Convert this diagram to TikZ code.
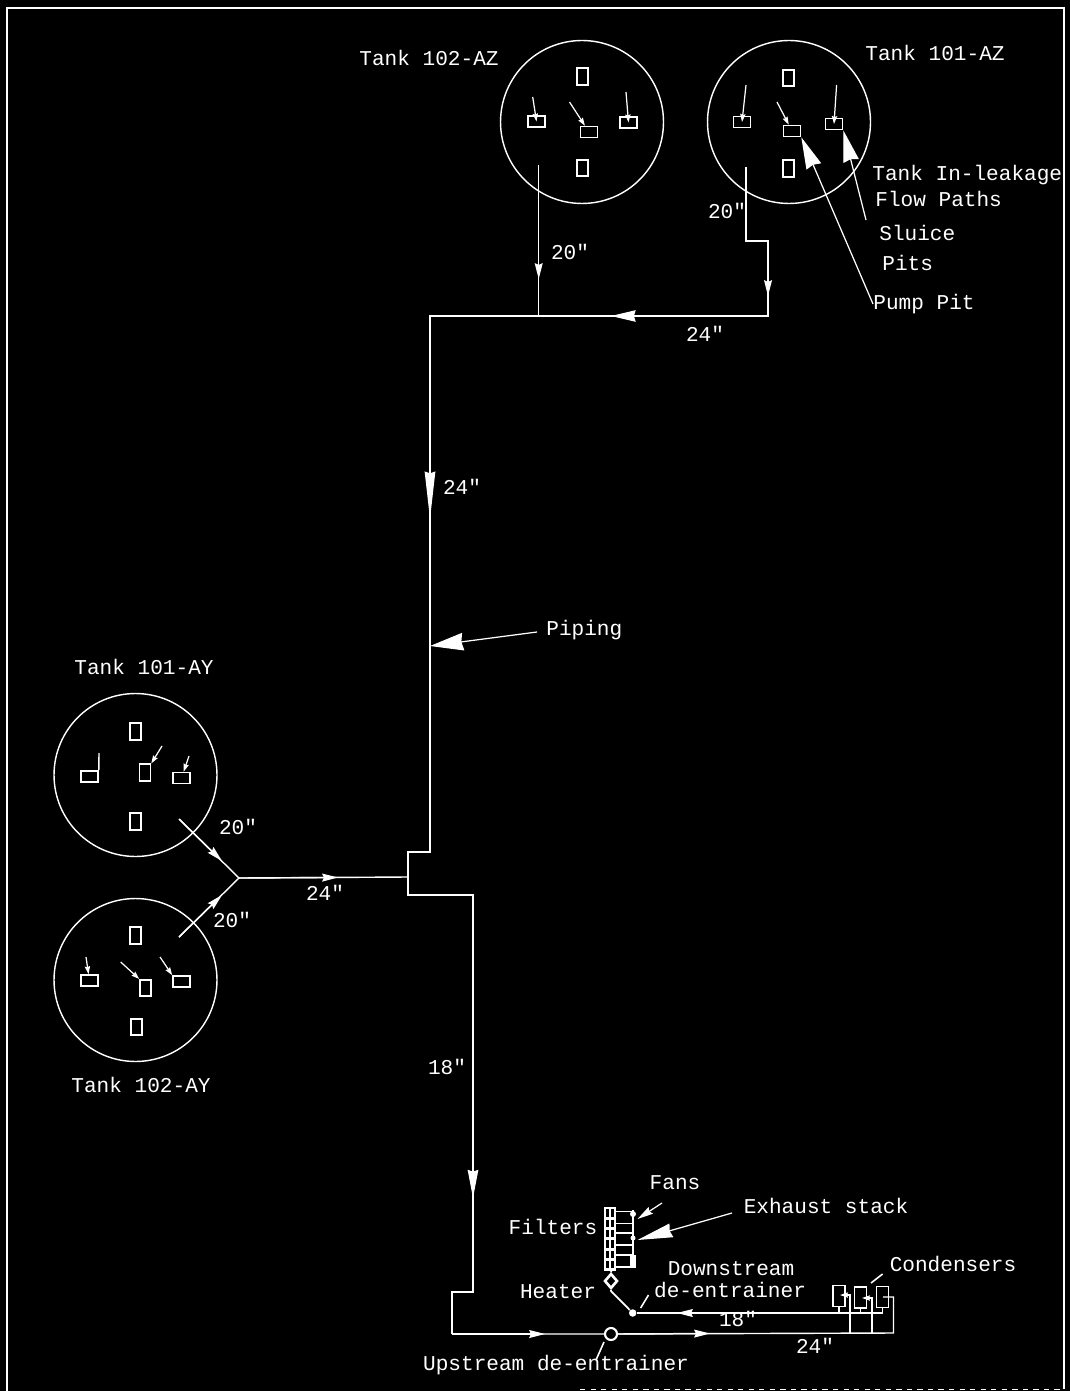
\documentclass[tikz,border=0pt]{standalone}
\usepackage{fontspec}
\setmonofont{Liberation Mono}
\usetikzlibrary{shapes.geometric, arrows.meta}
\tikzset{
  tanklabel/.style={
    font=\ttfamily\fontsize{12}{14}\selectfont, text=white, inner sep=0pt
  },
  tankcircle/.style={
    circle, draw=white, line width=0.8pt, minimum size=3.26cm, inner sep=0pt
  },
  pitbox/.style={
    rectangle, draw=white, line width=0.9pt, inner sep=0pt,
    minimum width=0.34cm, minimum height=0.22cm
  },
  pitboxtall/.style={
    rectangle, draw=white, line width=0.9pt, inner sep=0pt,
    minimum width=0.22cm, minimum height=0.33cm
  },
  condenser/.style={
    rectangle, draw=white, line width=0.9pt, inner sep=0pt,
    minimum width=0.24cm, minimum height=0.42cm
  },
  filtercell/.style={
    rectangle, draw=white, line width=1.5pt, inner sep=0pt,
    minimum width=0.1cm, minimum height=0.2cm
  },
  fanbox/.style={
    rectangle, draw=white, line width=0.6pt, inner sep=0pt,
    minimum width=0.36cm, minimum height=0.24cm
  },
  pipe/.style={draw=white, line width=0.8pt},
  pipearrow/.style={
    draw=white, line width=0.8pt, -{Stealth[length=16pt,width=6pt,inset=1pt]}
  },
  flowarrow/.style={
    draw=white, line width=0.8pt, -{Stealth[length=9pt,width=4.5pt,inset=1pt]}
  },
  pitarrow/.style={
    draw=white, line width=0.7pt, -{Stealth[length=4.5pt,width=3pt,inset=0.5pt]}
  },
  leader/.style={
    draw=white, line width=0.7pt, -{Stealth[length=18pt,width=9pt,inset=1pt]}
  },
  smallleader/.style={draw=white, line width=0.9pt},
}
\begin{document}
\begin{tikzpicture}[x=0.02cm, y=-0.02cm]
  \useasboundingbox[fill=black] (0,0) rectangle (1070,1391);
  % Frame
  \draw[white, line width=1.3pt] (7,1391) -- (7,8) -- (1064,8) -- (1064,1389);
  \draw[white, line width=0.5pt, dashed] (580,1389) -- (1064,1389);

  % Tanks on the AZ side
  \node[tankcircle] (tankaztwo) at (582,122) {};
  \node[tankcircle] (tankazone) at (789,122) {};
  \node[tanklabel] (labelaztwo) at (429,58) {Tank 102-AZ};
  \node[tanklabel] (labelazone) at (935,53) {Tank 101-AZ};
  % Pits of 102-AZ
  \node[pitboxtall] (aztwotop) at (582.5,76.5) {};
  \node[pitboxtall] (aztwobot) at (582.5,168) {};
  \node[pitbox] (aztwoleft) at (536.5,121.5) {};
  \node[pitbox] (aztwomid) at (589,132) {};
  \node[pitbox] (aztworight) at (628.5,122.5) {};
  \coordinate (aztwoa) at (532.7,97);
  \coordinate (aztwob) at (569.5,102);
  \coordinate (aztwoc) at (626,92);
  \draw[pitarrow] (aztwoa) -- (aztwoleft.center);
  \draw[pitarrow] (aztwob) -- (aztwomid);
  \draw[pitarrow] (aztwoc) -- (aztworight.center);
  % Pits of 101-AZ
  \node[pitboxtall] (azonetop) at (788.5,78) {};
  \node[pitboxtall] (azonebot) at (788.5,168.5) {};
  \node[pitbox] (azoneleft) at (742,122) {};
  \node[pitbox] (azonemid) at (792,131) {};
  \node[pitbox] (azoneright) at (834,124) {};
  \coordinate (azonea) at (746,85);
  \coordinate (azoneb) at (777,102);
  \coordinate (azonec) at (836.6,85);
  \draw[pitarrow] (azonea) -- (azoneleft.center);
  \draw[pitarrow] (azoneb) -- (azonemid);
  \draw[pitarrow] (azonec) -- (azoneright.center);

  % Labels to the right of 101-AZ
  \node[tanklabel, anchor=west] (inleak) at (872,175) {Tank In-leakage};
  \node[tanklabel, anchor=west] (flowpaths) at (875,199) {Flow Paths};
  \node[tanklabel, anchor=west] (sluice) at (879,233) {Sluice};
  \node[tanklabel, anchor=west] (pits) at (882,263) {Pits};
  \node[tanklabel, anchor=west] (pumppit) at (873,304) {Pump Pit};
  \coordinate (sluiceend) at (866,220);
  \draw[leader] (sluiceend) -- (azoneright.south east);
  \draw[leader] (pumppit.west) -- (azonemid.south east);

  % AZ piping
  \coordinate (azastart) at (538.7,165);
  \coordinate (azamark) at (538.7,279);
  \coordinate (azajoin) at (538.7,316);
  \coordinate (azbstart) at (746,167);
  \coordinate (azbstepa) at (746,241);
  \coordinate (azbstepb) at (768,241);
  \coordinate (azbmark) at (768,296);
  \coordinate (azbcorner) at (768,316);
  \coordinate (headmark) at (611,316);
  \coordinate (maintop) at (430,316);
  \coordinate (mainmark) at (430,519);
  \coordinate (mainpiping) at (430,646);
  \coordinate (mainbot) at (430,852);
  \coordinate (stepa) at (408,852);
  \coordinate (stepb) at (408,895);
  \coordinate (stepc) at (473,895);
  \coordinate (ductmark) at (473,1198);
  \coordinate (stepd) at (473,1292);
  \coordinate (stepe) at (452,1292);
  \coordinate (stepf) at (452,1334);
  % Pipes run whole, the flow arrows go on top
  \draw[pipe] (azastart) -- (azajoin);
  \draw[pipe] (azbstart) -- (azbstepa) -- (azbstepb) -- (azbcorner) -- (maintop)
    -- (mainbot) -- (stepa) -- (stepb) -- (stepc) -- (stepd) -- (stepe) -- (stepf);
  \draw[flowarrow] (azastart) -- (azamark);
  \draw[flowarrow] (azbstepb) -- (azbmark);
  \draw[pipearrow, -{Stealth[length=14pt,width=6.5pt,inset=1pt]}] (azbcorner) -- (headmark);
  \draw[pipearrow, -{Stealth[length=27pt,width=6pt,inset=1pt]}] (maintop) -- (mainmark);
  \draw[pipearrow] (stepc) -- (ductmark);
  \node[tanklabel] (sizeaztwo) at (570,252) {20"};
  \node[tanklabel] (sizeazone) at (727,211) {20"};
  \node[tanklabel] (sizehead) at (705,334) {24"};
  \node[tanklabel] (sizemain) at (462,487) {24"};
  \node[tanklabel, anchor=west] (piping) at (546,630) {Piping};
  \coordinate (pipingend) at (537,632);
  \draw[leader, -{Stealth[length=19pt,width=10pt,inset=1pt]}] (pipingend) -- (mainpiping);

  % Tanks on the AY side
  \node[tankcircle] (tankayone) at (135.5,775) {};
  \node[tankcircle] (tankaytwo) at (135.5,980) {};
  \node[tanklabel] (labelayone) at (144,667) {Tank 101-AY};
  \node[tanklabel] (labelaytwo) at (141,1085) {Tank 102-AY};
  % Pits of 101-AY
  \node[pitboxtall] (ayonetop) at (135.5,731.5) {};
  \node[pitboxtall] (ayonebot) at (135.5,821.5) {};
  \node[pitbox] (ayoneleft) at (89.5,776.5) {};
  \node[pitboxtall] (ayonemid) at (145,772.5) {};
  \node[pitbox] (ayoneright) at (181.5,778) {};
  \coordinate (ayonea) at (99,753);
  \coordinate (ayoneb) at (162,746);
  \coordinate (ayonec) at (189,756);
  \draw[pipe] (ayonea) -- (ayoneleft.north east);
  \draw[pitarrow] (ayoneb) -- (ayonemid.north east);
  \draw[pitarrow] (ayonec) -- (ayoneright);
  % Pits of 102-AY
  \node[pitboxtall] (aytwotop) at (135.5,935.5) {};
  \node[pitboxtall] (aytwobot) at (136.5,1027) {};
  \node[pitbox] (aytwoleft) at (89.5,980.5) {};
  \node[pitboxtall] (aytwomid) at (145.5,988) {};
  \node[pitbox] (aytworight) at (181.5,981.5) {};
  \coordinate (aytwoa) at (86,957);
  \coordinate (aytwob) at (120.7,962);
  \coordinate (aytwoc) at (160,957);
  \draw[pitarrow] (aytwoa) -- (aytwoleft);
  \draw[pitarrow] (aytwob) -- (aytwomid.north west);
  \draw[pitarrow] (aytwoc) -- (aytworight.north west);

  % AY piping
  \coordinate (ayastart) at (179,819);
  \coordinate (ayamark) at (222,861);
  \coordinate (aybstart) at (179,937);
  \coordinate (aybmark) at (222,895);
  \coordinate (ayjoin) at (239,878);
  \coordinate (aymark) at (338,877.5);
  \coordinate (ayend) at (408,877);
  \draw[pipe] (ayastart) -- (ayjoin) -- (aybstart);
  \draw[pipe] (ayjoin) -- (ayend);
  \draw[flowarrow] (ayastart) -- (ayamark);
  \draw[flowarrow] (aybstart) -- (aybmark);
  \draw[flowarrow] (ayjoin) -- (aymark);
  \node[tanklabel] (sizeayone) at (238,827) {20"};
  \node[tanklabel] (sizeaytwo) at (232,920) {20"};
  \node[tanklabel] (sizeay) at (325,893) {24"};
  \node[tanklabel] (sizeduct) at (447,1067) {18"};

  % Filters, two columns of cells
  \foreach \row in {0,...,5} {
    \node[filtercell] (filterl\row) at (607.5,1213+10.3*\row) {};
    \node[filtercell] (filterr\row) at (612.5,1213+10.3*\row) {};
  }
  % Fans
  \foreach \row/\ypos in {0/1217.5, 1/1239, 2/1261} {
    \node[fanbox] (fanbox\row) at (624,\ypos) {};
  }
  % Exhaust stack
  \coordinate (stacktop) at (633,1210);
  \coordinate (stackmid) at (633,1255);
  \coordinate (stackbot) at (633,1268);
  \draw[pipe, line width=1.2pt] (stacktop) -- (stackmid);
  \draw[pipe, line width=3pt] (stackmid) -- (stackbot);
  \node[circle, fill=white, inner sep=0pt, minimum size=0.12cm] (stackfan) at (633,1214) {};
  \node[circle, fill=white, inner sep=0pt, minimum size=0.1cm] (stackjet) at (633,1238) {};
  \node[diamond, draw=white, line width=1.5pt, inner sep=0pt,
    minimum width=0.26cm, minimum height=0.3cm] (heater) at (611,1281) {};
  \node[tanklabel] (filters) at (553,1227) {Filters};
  \node[tanklabel] (fans) at (675,1183) {Fans};
  \node[tanklabel] (exhaust) at (826,1206) {Exhaust stack};
  \node[tanklabel] (heaterlabel) at (558,1292) {Heater};
  \node[tanklabel] (downa) at (731,1269) {Downstream};
  \node[tanklabel] (downb) at (730,1290) {de-entrainer};
  \node[tanklabel] (condlabel) at (953,1264) {Condensers};
  \node[tanklabel] (upstream) at (556,1365) {Upstream de-entrainer};
  \node[tanklabel] (sizeback) at (738,1319) {18"};
  \node[tanklabel] (sizeloop) at (815,1346) {24"};
  \coordinate (fansend) at (662,1203);
  \coordinate (fanstip) at (637.5,1219);
  \coordinate (exhend) at (732,1213);
  \coordinate (exhtip) at (637.5,1240);
  \coordinate (condend) at (882.6,1274);
  \coordinate (condtip) at (871,1283);
  \coordinate (downend) at (648.5,1295);
  \coordinate (downtip) at (640.6,1308);
  \coordinate (upend) at (604,1342);
  \coordinate (uptip) at (596,1360);
  \draw[leader, -{Stealth[length=9pt,width=4.5pt,inset=1pt]}] (fansend) -- (fanstip);
  \draw[leader, -{Stealth[length=20pt,width=8pt,inset=1pt]}] (exhend) -- (exhtip);
  \draw[smallleader] (condend) -- (condtip);
  \draw[smallleader] (downend) -- (downtip);
  \draw[smallleader] (upend) -- (uptip);

  % De-entrainers
  \node[circle, fill=white, inner sep=0pt, minimum size=0.15cm] (downdot) at (632.7,1313) {};
  \coordinate (upcentre) at (611,1334);

  % Condensers
  \node[condenser] (condone) at (839,1296) {};
  \node[condenser] (condtwo) at (860.5,1297.5) {};
  \node[condenser] (condthree) at (882.5,1297) {};

  % Loop at the bottom
  \coordinate (upmark) at (545,1334);
  \coordinate (loopmark) at (710,1333.5);
  \coordinate (backmark) at (677,1313);
  \coordinate (backone) at (839,1313);
  \coordinate (backtwo) at (860.5,1313);
  \coordinate (backthree) at (882.5,1313);
  \coordinate (loopone) at (850,1333);
  \coordinate (looptwo) at (872,1333);
  \coordinate (loopthree) at (893.5,1333);
  \coordinate (feedone) at (850,1295);
  \coordinate (feedtwo) at (872,1298);
  \coordinate (feedthree) at (893.5,1297);
  \coordinate (tipone) at (840,1295);
  \coordinate (tiptwo) at (862,1298);
  \coordinate (tipthree) at (883,1297);
  \coordinate (heaterbend) at (611,1291);
  \draw[pipe] (stepf) -- (upcentre) -- (loopthree) -- (feedthree) -- (tipthree);
  \draw[flowarrow] (stepf) -- (upmark);
  \draw[flowarrow] (upcentre) -- (loopmark);
  \node[circle, draw=white, fill=black, line width=1.2pt, inner sep=0pt,
    minimum size=0.24cm] (updot) at (upcentre) {};
  \draw[pitarrow] (loopone) -- (feedone) -- (tipone);
  \draw[pitarrow] (looptwo) -- (feedtwo) -- (tiptwo);
  \draw[pipe] (backthree) -- (downdot);
  \draw[flowarrow] (backone) -- (backmark);
  \draw[pipe] (backone) -- (condone);
  \draw[pipe] (backtwo) -- (condtwo);
  \draw[pipe] (backthree) -- (condthree);
  \draw[pipe, line width=1pt] (heater.south) -- (heaterbend) -- (downdot);
  \draw[pipe, line width=1pt] (filterl5.south east) -- (heater.north);
\end{tikzpicture}
\end{document}
